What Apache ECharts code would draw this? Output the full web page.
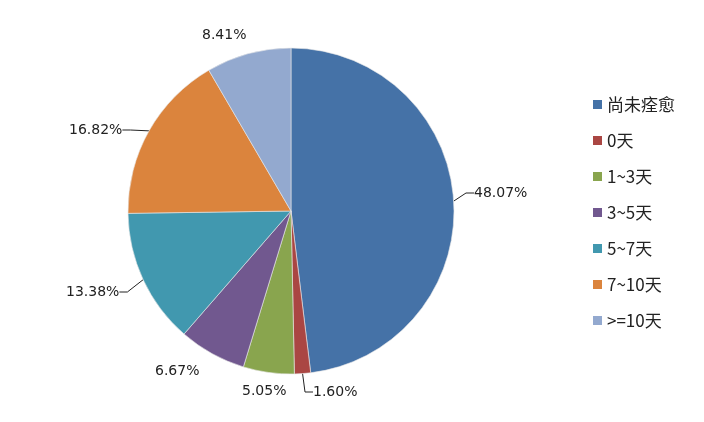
<!DOCTYPE html>
<html>
<head>
<meta charset="utf-8">
<script src="https://cdn.jsdelivr.net/npm/echarts@6/dist/echarts.min.js"></script>
<style>
html, body { margin: 0; padding: 0; background: #fff; }
#main { width: 704px; height: 422px; }
</style>
</head>
<body>
<div id="main"></div>
<script>
// 分类名称
const categories = ['尚未痊愈', '0天', '1~3天', '3~5天', '5~7天', '7~10天', '>=10天'];
// 各分类占比（%）
const percents = [48.07, 1.60, 5.05, 6.67, 13.38, 16.82, 8.41];
// 颜色
const colors = ['#4572A7', '#AA4643', '#89A54E', '#71588F', '#4198AF', '#DB843D', '#93A9CF'];
// 哪些标签带引导线
const withLine = [true, true, false, false, true, true, false];

// 标签摆放位置（左边缘x，中线y）
const labelPos = [
    [474, 193], [313, 392], [242, 391], [155, 371],
    [66, 292], [69, 130], [202, 35]
];

const chart = echarts.init(document.getElementById('main'));

let pieData = [];
categories.forEach(function (name, i) {
    pieData.push({
        name: name,
        value: percents[i],
        labelLine: { show: withLine[i] }
    });
});

const option = {
    color: colors,
    textStyle: { fontFamily: '"Noto Sans CJK SC", "DejaVu Sans", sans-serif' },
    legend: {
        orient: 'vertical',
        left: 588,
        top: 91,
        itemWidth: 9,
        itemHeight: 9,
        itemGap: 19,
        icon: 'rect',
        itemStyle: { borderWidth: 0 },
        textStyle: {
            fontSize: 17,
            color: '#222',
            lineHeight: 17
        },
        data: categories
    },
    series: [{
        type: 'pie',
        center: [291, 211],
        radius: 163,
        startAngle: 90,
        clockwise: true,
        data: pieData,
        itemStyle: { borderColor: '#e8e8e8', borderWidth: 0.6 },
        emphasis: { disabled: true },
        label: {
            show: true,
            position: 'outside',
            formatter: function (p) { return p.value.toFixed(2) + '%'; },
            fontFamily: '"DejaVu Sans", sans-serif',
            fontSize: 14,
            color: '#222'
        },
        labelLine: {
            show: true,
            length: 8,
            length2: 8,
            lineStyle: { color: '#222', width: 1 }
        },
        labelLayout: function (params) {
            const pos = labelPos[params.dataIndex];
            return {
                x: pos[0],
                y: pos[1],
                align: 'left',
                verticalAlign: 'middle'
            };
        }
    }]
};
chart.setOption(option);
</script>
</body>
</html>
